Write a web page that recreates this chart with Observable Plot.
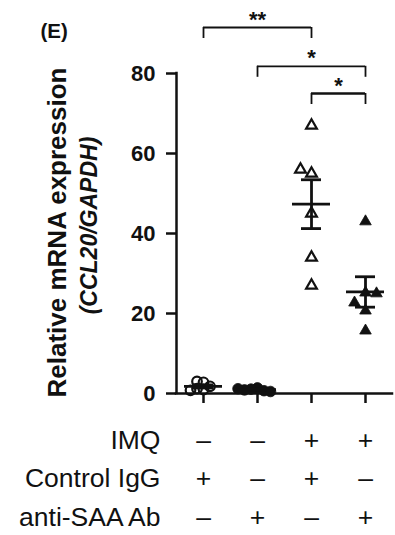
<!DOCTYPE html>
<html><head><meta charset="utf-8">
<script src="https://cdn.jsdelivr.net/npm/d3@7"></script>
<script src="https://cdn.jsdelivr.net/npm/@observablehq/plot@0.6"></script>
<style>body{margin:0;background:#fff}</style>
</head><body><div id="chart"></div>
<script>
// ---- data ----
const groupIds = [1, 2, 3, 4];
const controlIgG = [2.8, 3.0, 1.2, 1.0, 1.8, 0.8];        // IMQ-, IgG+, anti-SAA-
const antiSAA = [1.4, 1.1, 0.7, 0.9, 0.5, 1.2];           // IMQ-, IgG-, anti-SAA+
const imqIgG = [67, 55, 56, 45, 34, 27];                  // IMQ+, IgG+
const imqAntiSAA = [43, 25.2, 22.7, 25, 20.7, 15.7];      // IMQ+, anti-SAA+
const yTicks = [0, 20, 40, 60, 80];
const rowLabels = ["IMQ", "Control IgG", "anti-SAA Ab"];
const imqRow = ["–", "–", "+", "+"];
const iggRow = ["+", "–", "+", "–"];
const saaRow = ["–", "+", "–", "+"];
const bracketFrom = [1, 2, 3];
const bracketTo = [3, 4, 4];
const bracketY = [91.5, 81.8, 75];
const bracketStars = ["**", "*", "*"];
const yLabel1 = "Relative mRNA expression";
const yLabel2 = "(CCL20/GAPDH)";
const panel = "(E)";

// ---- layout ----
const W = 395, H = 535, mt = 73, mb = 142, ml = 176, mr = 3;
const pxY = (H - mt - mb) / 80;
const pxX = (W - ml - mr) / 4;
const font = "'Liberation Sans', Arial, Helvetica, sans-serif";
const ink = "#111";

function swarm(values, group, dist) {
  const placed = [];
  return values.map(v => {
    const py = v * pxY;
    let off = 0;
    for (let n = 0; n < 50; n++) {
      off = n === 0 ? 0 : (n % 2 ? -Math.ceil(n / 2) : Math.ceil(n / 2)) * dist;
      if (placed.every(p => Math.hypot(p.ox - off, p.py - py) >= dist - 1e-9)) break;
    }
    placed.push({ox: off, py});
    return {group, value: v, x: group + off / pxX};
  });
}
const series = [controlIgG, antiSAA, imqIgG, imqAntiSAA];
const stats = series.map((vals, i) => {
  const m = d3.mean(vals), sem = d3.deviation(vals) / Math.sqrt(vals.length);
  return {group: groupIds[i], mean: m, lo: m - sem, hi: m + sem};
});
const p1 = swarm(controlIgG, 1, 6.5);
const p2 = swarm(antiSAA, 2, 6.5);
const p3 = swarm(imqIgG, 3, 11);
const p4 = swarm(imqAntiSAA, 4, 11);
const brackets = bracketFrom.map((f, i) => ({x1: f, x2: bracketTo[i], y: bracketY[i], label: bracketStars[i], last: i === bracketFrom.length - 1}));

const tableFs = 26.5;
const rowBase = [448, 486.5, 525];
const rowPad = rowBase.map(b => b - (H - mb) - 0.71 * tableFs);
const rows = [imqRow, iggRow, saaRow];

const marks = [
  // y axis
  Plot.axisY(yTicks, {tickSize: 10, tickPadding: 11, fontSize: 22, fontWeight: "bold", strokeWidth: 2.5, label: null, fill: ink, stroke: ink}),
  Plot.ruleX([0.5], {y1: 0, y2: 80, strokeWidth: 2.5, stroke: ink, strokeLinecap: "square"}),
  Plot.ruleY([0], {x1: 0.5, x2: 4.5, strokeWidth: 2.5, stroke: ink, strokeLinecap: "square"}),
  // points
  Plot.dot(p1, {x: "x", y: "value", r: 4.8, stroke: ink, strokeWidth: 2.2, fill: "none"}),
  Plot.dot(p2, {x: "x", y: "value", r: 5.3, fill: ink, stroke: ink, strokeWidth: 0.8}),
  Plot.dot(p3, {x: "x", y: "value", symbol: "triangle", r: 4, stroke: ink, strokeWidth: 2.2, fill: "none"}),
  Plot.dot(p4, {x: "x", y: "value", symbol: "triangle", r: 4.3, fill: ink, stroke: ink, strokeWidth: 0.8}),
  // mean +/- SEM
  Plot.ruleX(stats, {x: "group", y1: "lo", y2: "hi", strokeWidth: 2.8, stroke: ink}),
  Plot.ruleY(stats, {y: "mean", x1: d => d.group - 19 / pxX, x2: d => d.group + 19 / pxX, strokeWidth: 2.8, stroke: ink}),
  Plot.ruleY(stats, {y: "lo", x1: d => d.group - 10 / pxX, x2: d => d.group + 10 / pxX, strokeWidth: 2.8, stroke: ink}),
  Plot.ruleY(stats, {y: "hi", x1: d => d.group - 10 / pxX, x2: d => d.group + 10 / pxX, strokeWidth: 2.8, stroke: ink}),
  // significance brackets
  Plot.ruleY(brackets, {x1: "x1", x2: "x2", y: "y", strokeWidth: d => d.last ? 2.6 : 1.8, stroke: ink}),
  Plot.ruleX(brackets, {x: "x1", y1: "y", y2: d => d.y - 2.75, strokeWidth: 1.8, stroke: ink}),
  Plot.ruleX(brackets, {x: "x2", y1: "y", y2: d => d.y - 2.75, strokeWidth: 1.8, stroke: ink}),
  Plot.text(brackets, {x: d => (d.x1 + d.x2) / 2, y: "y", text: "label", dy: -8, fontSize: 22, fontWeight: "bold", fill: ink}),
  // y label
  Plot.text([yLabel1], {frameAnchor: "left", textAnchor: "middle", rotate: -90, dx: 57 - ml, dy: -1, fontSize: 26, fontWeight: "bold", fill: ink}),
  Plot.text([yLabel2], {frameAnchor: "left", textAnchor: "middle", rotate: -90, dx: 89 - ml, dy: -8, fontSize: 23, fontWeight: "bold", fontStyle: "italic", fill: ink}),
  // panel letter
  Plot.text([panel], {frameAnchor: "top-left", textAnchor: "start", dx: 40 - ml, dy: 23 - mt, fontSize: 20.5, fontWeight: "bold", fill: ink})
];
rows.forEach((row, r) => {
  const ts = r === 0 ? 10 : 0;
  marks.push(Plot.axisX(groupIds, {
    tickSize: ts, tickPadding: rowPad[r] - ts, strokeWidth: 2.5, stroke: ink, fill: ink,
    tickFormat: i => row[i - 1], fontSize: tableFs, fontWeight: "normal", label: null
  }));
  marks.push(Plot.text([rowLabels[r]], {
    frameAnchor: "bottom-left", textAnchor: "end", lineAnchor: "top",
    dx: 160 - ml, dy: rowPad[r], fontSize: tableFs, fill: ink
  }));
});

const chart = Plot.plot({
  width: W, height: H,
  marginTop: mt, marginBottom: mb, marginLeft: ml, marginRight: mr,
  style: {fontFamily: font, background: "white", color: ink},
  x: {domain: [0.5, 4.5], axis: null},
  y: {domain: [0, 80], axis: null},
  marks
});
document.getElementById("chart").appendChild(chart);
</script>
</body></html>
